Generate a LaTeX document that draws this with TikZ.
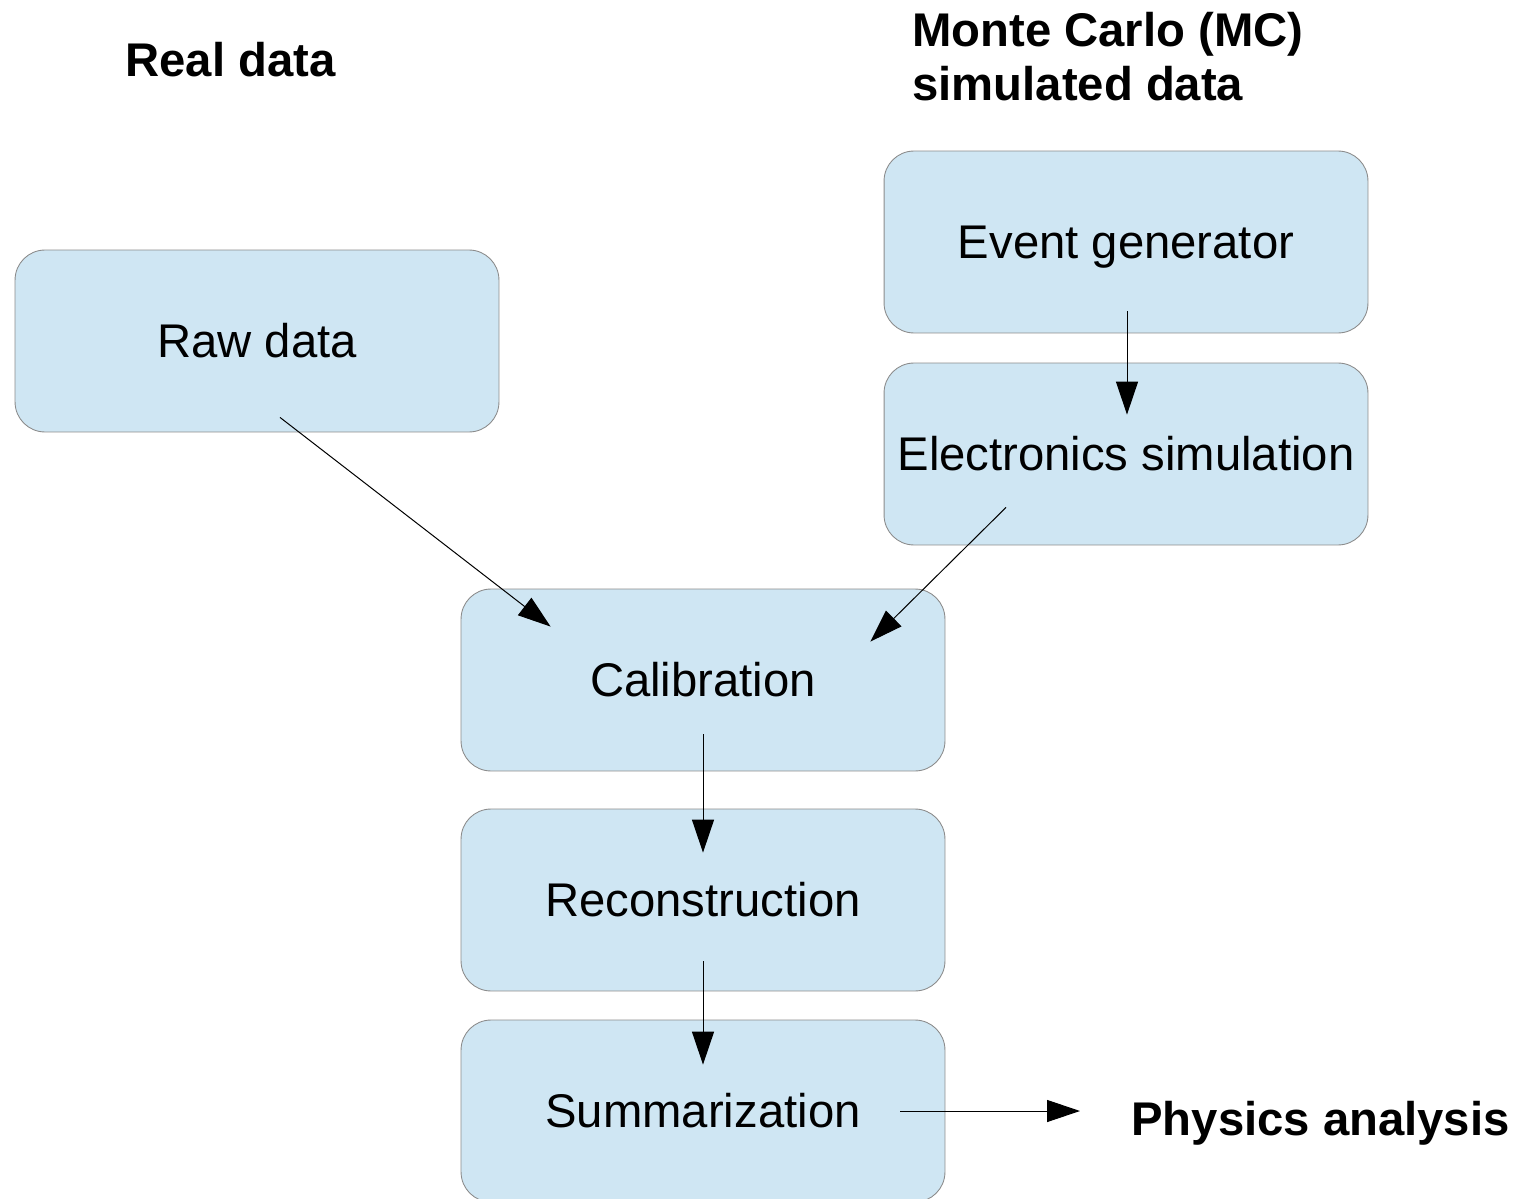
\documentclass[tikz,border=0pt]{standalone}
\usepackage{fontspec}
\setmainfont{Liberation Sans}
\usepackage{xcolor}
\usepackage{tikz}
\usetikzlibrary{calc,arrows.meta,positioning}

\definecolor{boxblue}{HTML}{CFE6F3}
\definecolor{boxline}{HTML}{8C8C8C}

\begin{document}
\begin{tikzpicture}[
    x=0.02cm, y=-0.02cm,
    stagebox/.style={
      rectangle,
      rounded corners=0.6cm,
      minimum width=9.68cm,
      minimum height=3.64cm,
      inner sep=0pt,
      text height=19.3pt,
      text depth=0pt,
      draw=boxline,
      line width=0.5pt,
      fill=boxblue,
      font=\fontsize{26.9}{31}\selectfont
    },
    heading/.style={
      inner sep=0pt,
      font=\fontsize{26.9}{31}\selectfont\bfseries
    },
    flow/.style={
      -{Triangle[length=18.7pt, width=12.5pt]},
      line width=0.57pt,
      black
    }
  ]

    % page frame
    \useasboundingbox (0,0) rectangle (1524,1199);

    % Column headings
    \node[heading, anchor=base west] (realhead) at (125,77) {Real data};
    \node[heading, anchor=base west, align=left] (mchead) at (912,101)
      {Monte Carlo (MC)\\simulated data};

    % Real data branch
    \node[stagebox] (raw) at (257,341) {Raw data};

    % MC branch
    \node[stagebox] (evgen) at (1126,242) {Event generator};
    \node[stagebox] (elec) at (1126,454) {Electronics simulation};

    % Common processing chain
    \node[stagebox] (calib) at (703,680) {Calibration};
    \node[stagebox] (recon) at (703,900) {Reconstruction};
    \node[stagebox] (summ) at (703,1111) {Summarization};

    % Output
    \node[heading, anchor=base west] (physics) at (1131,1135) {Physics analysis};

    % Arrows
    \draw[flow] ($(raw.south)+(23,-15)$) -- ($(calib.north west)+(90,38)$);
    \draw[flow] ($(evgen.south)+(1,-22)$) -- ($(elec.north)+(1,52)$);
    \draw[flow] ($(elec.south)+(-120,-38)$) -- ($(calib.north east)+(-75,53)$);
    \draw[flow] ($(calib.south)+(0,-37)$) -- ($(recon.north)+(0,44)$);
    \draw[flow] ($(recon.south)+(0,-30)$) -- ($(summ.north)+(0,45)$);
    \draw[flow] ($(summ.east)+(-45,0)$) -- ($(summ.east -| physics.west)+(-51,0)$);

  \end{tikzpicture}
\end{document}
